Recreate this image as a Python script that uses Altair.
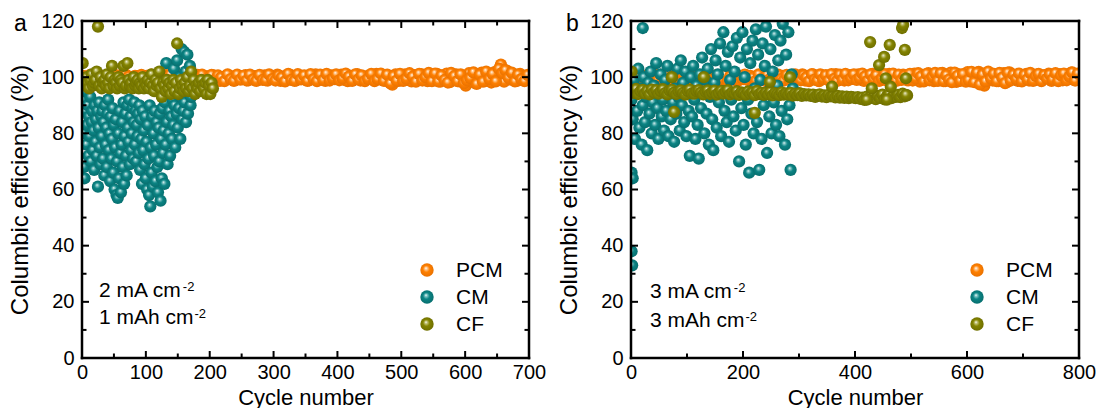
import altair as alt
import pandas as pd

FONT = "Liberation Sans"

# ---------------- data: panel a (2 mA cm-2) ----------------
pcm_a_cycles = list(range(1, 701, 5))
pcm_a = [
    99.5, 100.2, 99.0, 99.8, 100.5, 99.3, 98.8, 100.0, 99.6, 100.3,
    99.1, 99.9, 100.6, 99.4, 98.9, 100.1, 99.7, 100.4, 99.2, 99.8,
    100.5, 99.0, 99.6, 100.2, 98.7, 99.9, 100.7, 99.3, 99.8, 100.1,
    98.9, 99.6, 100.4, 99.1, 100.0, 99.5, 100.8, 98.8, 99.7, 100.3,
    99.2, 100.6, 99.4, 98.7, 100.1, 99.8, 100.5, 99.0, 99.6, 100.2,
    99.3, 100.7, 98.9, 99.9, 100.4, 99.1, 99.7, 100.6, 98.8, 100.0,
    99.5, 100.9, 98.7, 100.3, 99.2, 100.8, 99.4, 98.9, 100.5, 99.7,
    100.2, 98.9, 99.6, 101.0, 99.1, 100.4, 98.7, 99.9, 100.6, 99.3,
    99.8, 100.9, 99.0, 98.6, 100.3, 99.5, 101.1, 98.8, 99.7, 100.4,
    99.6, 99.9, 101.2, 99.2, 100.6, 98.9, 99.6, 97.3, 101.0, 98.7,
    100.1, 101.0, 99.0, 98.5, 100.7, 99.4, 101.1, 99.8, 98.6, 100.3,
    99.6, 101.2, 98.4, 100.0, 101.3, 98.2, 99.1, 101.0, 98.5, 100.5,
    97.0, 101.4, 98.3, 100.4, 99.0, 101.6, 98.6, 101.0, 98.1, 101.8,
    102.0, 104.5, 98.4, 102.2, 99.2, 100.8, 98.7, 101.2, 99.6, 100.0,
]
pcm_a2_cycles = list(range(3, 701, 5))
pcm_a2 = [
    100.4, 98.9, 100.8, 99.2, 98.7, 100.6, 99.9, 98.6, 100.9, 99.0,
    100.7, 98.8, 99.5, 101.0, 100.2, 98.7, 100.5, 99.1, 100.8, 98.9,
    99.3, 100.9, 98.8, 99.6, 100.8, 98.6, 99.4, 100.9, 98.7, 99.5,
    100.6, 98.7, 99.4, 101.0, 98.6, 100.7, 99.2, 100.9, 98.8, 99.6,
    100.8, 98.9, 100.6, 99.9, 98.6, 101.0, 99.3, 98.7, 100.9, 99.1,
    100.5, 98.8, 100.9, 99.2, 98.7, 100.8, 99.0, 98.9, 101.0, 99.3,
    98.8, 100.6, 99.9, 98.5, 101.2, 99.0, 98.7, 101.1, 99.2, 100.6,
    98.7, 101.1, 99.3, 98.6, 100.9, 99.0, 101.2, 98.8, 99.5, 101.0,
    98.9, 99.6, 101.3, 100.2, 98.7, 101.0, 99.2, 100.6, 98.6, 99.4,
    101.2, 98.6, 99.3, 101.3, 98.7, 100.9, 97.8, 100.4, 98.8, 101.2,
    98.7, 99.5, 101.4, 100.2, 98.4, 101.2, 98.8, 100.0, 101.5, 98.6,
    101.3, 98.5, 100.6, 99.0, 98.1, 101.5, 100.4, 98.6, 101.0, 97.9,
    98.9, 99.7, 101.7, 97.6, 100.9, 98.4, 102.0, 99.4, 101.2, 98.5,
    103.0, 101.5, 102.5, 99.8, 101.6, 98.5, 100.9, 99.3, 98.6, 100.8,
]
cm_a_cycles = list(range(1, 173))
cm_a = [
    92, 80, 68, 64, 88, 95, 76, 83, 90, 72,
    86, 79, 93, 70, 84, 88, 74, 81, 67, 90,
    77, 85, 72, 88, 61, 82, 91, 75, 69, 86,
    79, 88, 71, 84, 65, 90, 76, 82, 68, 87,
    92, 74, 80, 63, 86, 71, 78, 89, 66, 83,
    60, 75, 85, 58, 70, 57, 80, 64, 88, 73,
    59, 76, 84, 68, 91, 62, 79, 87, 72, 65,
    90, 82, 77, 92, 69, 86, 74, 80, 89, 71,
    84, 91, 76, 88, 70, 83, 79, 87, 73, 90,
    67, 85, 78, 62, 88, 74, 81, 69, 86, 64,
    77, 60, 83, 71, 58, 90, 54, 75, 66, 86,
    61, 80, 72, 88, 63, 76, 84, 68, 59, 82,
    70, 87, 56, 78, 64, 89, 73, 81, 62, 91,
    76, 105, 84, 69, 94, 80, 88, 72, 98, 86,
    78, 92, 83, 103, 90, 75, 96, 87, 106, 82,
    95, 89, 100, 78, 93, 110, 85, 97, 88, 109,
    91, 102, 84, 96, 108, 87, 99, 94, 104, 90,
    93, 97,
]
cf_a_cycles = list(range(1, 206, 2))
cf_a = [
    105, 99, 97, 100, 98, 96, 99, 101, 97, 98,
    99, 102, 118, 97, 100, 96, 98, 99, 97, 101,
    98, 96, 100, 104, 97, 99, 98, 96, 100, 97,
    99, 98, 104, 96, 97, 105, 99, 97, 98, 96,
    100, 97, 98, 99, 96, 98, 97, 100, 96, 98,
    97, 99, 96, 98, 101, 97, 95, 99, 97, 98,
    102, 96, 93, 98, 97, 95, 99, 96, 98, 94,
    97, 99, 95, 98, 112, 94, 96, 99, 97, 95,
    98, 96, 100, 95, 97, 102, 96, 99, 94, 97,
    96, 98, 95, 99, 97, 96, 98, 94, 99, 97,
    94, 98, 96,
]

# ---------------- data: panel b (3 mA cm-2) ----------------
pcm_b_cycles = list(range(1, 801, 5))
pcm_b = [
    99.6, 100.3, 99.1, 99.9, 100.5, 99.4, 98.9, 100.1, 99.7, 100.4,
    99.2, 100.0, 100.6, 99.5, 99.0, 100.2, 99.8, 100.5, 99.3, 99.9,
    100.4, 99.1, 99.7, 100.3, 98.8, 100.0, 100.7, 99.4, 99.9, 100.2,
    99.0, 99.7, 100.5, 99.2, 100.1, 99.6, 100.8, 98.9, 99.8, 100.4,
    99.3, 100.6, 99.5, 98.8, 100.2, 99.9, 100.5, 99.1, 99.7, 100.3,
    99.4, 100.8, 99.0, 100.0, 100.5, 99.2, 99.8, 100.7, 98.9, 100.1,
    99.6, 101.0, 98.8, 100.4, 99.3, 100.9, 99.5, 98.6, 100.6, 99.8,
    100.3, 99.0, 99.7, 101.1, 99.2, 100.5, 98.8, 100.0, 100.7, 99.4,
    99.9, 101.0, 99.1, 98.7, 100.4, 99.6, 101.2, 98.9, 99.8, 100.5,
    99.3, 100.0, 101.2, 99.2, 100.6, 98.8, 99.7, 100.9, 99.4, 98.9,
    100.2, 101.3, 99.1, 98.4, 100.8, 99.5, 101.4, 99.9, 98.6, 100.4,
    99.7, 101.5, 98.6, 100.1, 101.6, 99.2, 98.3, 101.0, 99.6, 100.6,
    101.8, 98.5, 101.3, 100.2, 101.9, 98.1, 97.0, 99.4, 101.0, 98.8,
    100.5, 98.6, 99.9, 101.4, 98.2, 101.7, 99.3, 100.8, 98.7, 100.2,
    99.5, 101.2, 98.8, 100.6, 99.1, 101.0, 98.9, 100.4, 99.6, 101.3,
    98.7, 100.3, 99.2, 101.1, 98.9, 100.5, 99.4, 101.6, 99.0, 100.8,
]
pcm_b2_cycles = list(range(3, 801, 5))
pcm_b2 = [
    100.5, 98.9, 100.7, 99.2, 98.8, 100.6, 99.8, 98.7, 100.9, 99.1,
    100.8, 98.8, 99.6, 101.0, 100.2, 98.7, 100.4, 99.2, 100.8, 98.9,
    99.4, 100.9, 98.8, 99.7, 100.8, 98.6, 99.5, 100.9, 98.8, 99.6,
    100.7, 98.8, 99.4, 101.0, 98.7, 100.6, 99.3, 100.9, 98.9, 99.7,
    100.9, 99.0, 100.5, 99.9, 98.7, 101.0, 99.4, 98.8, 100.8, 99.2,
    100.6, 98.9, 100.9, 99.3, 98.8, 100.8, 99.1, 99.0, 101.0, 99.4,
    98.9, 100.7, 99.9, 98.6, 101.1, 99.1, 98.8, 101.0, 99.3, 100.7,
    98.8, 101.1, 99.4, 98.7, 100.9, 99.1, 101.2, 98.9, 99.6, 101.0,
    99.0, 99.7, 101.3, 100.3, 98.8, 101.0, 99.3, 100.7, 98.7, 99.5,
    101.1, 98.7, 99.4, 101.3, 98.8, 100.9, 99.0, 100.5, 98.9, 101.2,
    98.8, 99.6, 101.4, 100.3, 98.5, 101.2, 98.9, 100.1, 101.5, 98.7,
    101.4, 98.6, 100.7, 99.1, 98.2, 101.6, 100.5, 98.7, 101.1, 98.4,
    99.0, 101.9, 98.2, 101.6, 97.4, 100.9, 98.5, 102.0, 99.5, 101.2,
    98.6, 101.5, 99.8, 97.9, 101.6, 98.8, 100.9, 99.4, 101.3, 98.5,
    100.8, 99.2, 101.5, 98.7, 100.4, 101.2, 98.6, 100.7, 99.5, 101.0,
    99.2, 101.4, 98.6, 100.6, 101.3, 98.9, 100.2, 101.7, 98.8, 101.3,
]
cm_b_cycles = list(range(1, 290, 2))
cm_b = [
    92, 85, 99, 78, 95, 88, 103, 82, 96, 76,
    90, 100, 84, 93, 74, 98, 87, 102, 80, 91,
    97, 83, 105, 89, 78, 94, 101, 86, 92, 81,
    99, 88, 104, 79, 95, 85, 100, 91, 77, 96,
    87, 103, 93, 81, 106, 90, 98, 84, 102, 79,
    95, 88, 72, 100, 86, 104, 92, 78, 97, 83,
    71, 101, 89, 107, 94, 80, 99, 87, 103, 76,
    93, 110, 85, 74, 98, 106, 82, 101, 91, 112,
    79, 95, 116, 88, 104, 84, 109, 77, 99, 92,
    111, 86, 102, 81, 114, 94, 70, 107, 89, 116,
    83, 100, 76, 110, 92, 66, 105, 87, 113, 80,
    96, 117, 84, 108, 67, 99, 78, 112, 90, 104,
    118, 73, 95, 86, 110, 80, 102, 91, 115, 83,
    97, 106, 79, 113, 88, 119, 94, 76, 108, 85,
    116, 90, 67, 101, 96,
]
cm_b_extra_cycles = [1, 2, 1, 3, 21]
cm_b_extra = [38, 33, 66, 64, 117.5]
cf_b_cycles = list(range(1, 494, 4))
cf_b = [
    95.3, 94.4, 95.8, 94.0, 95.0, 95.5, 94.2, 95.1, 93.9, 95.6,
    94.6, 95.4, 94.1, 95.0, 95.7, 94.3, 93.9, 95.2, 95.5, 94.5,
    94.0, 94.9, 95.3, 94.4, 93.8, 95.1, 95.6, 94.2, 94.1, 95.0,
    95.4, 94.5, 93.9, 94.8, 95.3, 94.0, 94.6, 95.2, 93.8, 94.4,
    95.1, 94.1, 94.8, 95.4, 93.9, 94.5, 94.2, 95.0, 93.7, 94.6,
    94.3, 93.8, 94.9, 94.1, 94.6, 93.6, 95.1, 94.0, 94.4, 93.7,
    94.5, 93.9, 94.8, 93.5, 94.3, 94.0, 93.6, 94.6, 93.8, 94.2,
    93.8, 94.4, 93.4, 94.1, 93.6, 94.3, 93.3, 94.0, 93.5, 93.9,
    93.3, 93.8, 93.0, 93.6, 93.9, 93.1, 93.5, 92.9, 93.7, 93.2,
    93.4, 92.8, 93.3, 92.7, 93.2, 92.6, 93.1, 92.5, 93.0, 92.8,
    92.5, 92.9, 92.3, 92.7, 91.9, 93.1, 92.4, 93.5, 92.8, 92.2,
    93.3, 92.6, 93.8, 92.1, 93.2, 93.9, 92.5, 93.4, 93.0, 93.7,
    92.9, 94.1, 93.2, 93.5,
]
cf_b_extra_cycles = [1, 73, 77, 130, 221, 248, 284, 359, 421, 427, 430, 443,
                     452, 455, 457, 462, 464, 484, 486, 489, 491, 491]
cf_b_extra = [102, 100, 87.6, 100, 87.3, 98.3, 100, 96.6, 92, 112.5, 96, 104.3,
              107.2, 99.6, 92, 111.5, 96.5, 117.5, 118.6, 109.7, 99.6, 93.7]

# ---------------- labels / ticks ----------------
series_names = ["PCM", "CM", "CF"]
base_colors = {"PCM": "#FF8000", "CM": "#0B8484", "CF": "#848400"}
light_colors = {"PCM": "#FFC890", "CM": "#7FC4C4", "CF": "#C4C47A"}
dark_colors = {"PCM": "#E46E00", "CM": "#066A6A", "CF": "#6A6A00"}
y_major = [0, 20, 40, 60, 80, 100, 120]
y_minor = [10, 30, 50, 70, 90, 110]
xa_major = [0, 100, 200, 300, 400, 500, 600, 700]
xa_minor = [50, 150, 250, 350, 450, 550, 650]
xb_major = [0, 200, 400, 600, 800]
xb_minor = [100, 300, 500, 700]
ann_a = ["2 mA cm", "1 mAh cm"]
ann_b = ["3 mA cm", "3 mAh cm"]
sup_text = "-2"
x_title = "Cycle number"
y_title = "Columbic efficiency (%)"

H = 337
ANN_FS = 21


def grad(name):
    return {
        "gradient": "radial",
        "x1": 0.42, "y1": 0.36, "r1": 0.0,
        "x2": 0.5, "y2": 0.5, "r2": 0.58,
        "stops": [
            {"offset": 0.0, "color": "#FFFFFF"},
            {"offset": 0.16, "color": light_colors[name]},
            {"offset": 0.42, "color": base_colors[name]},
            {"offset": 1.0, "color": dark_colors[name]},
        ],
    }


def panel(W, xmax, x_major, x_minor, series, letter, letter_x, ann, ann_x, ann_y):
    xs = alt.Scale(domain=[0, xmax], nice=False, zero=False)
    ys = alt.Scale(domain=[0, 120], nice=False)
    xaxis = alt.Axis(values=x_major, ticks=False, domain=False, grid=False,
                     labelPadding=4, titlePadding=5, format="d", labelFlush=False,
                     labelOverlap=False, titleFontSize=22)
    yaxis = alt.Axis(values=y_major, ticks=False, domain=False, grid=False,
                     labelPadding=8, titlePadding=8, format="d", labelFlush=False,
                     labelOverlap=False, titleFontSize=24)
    layers = []
    for name, cyc, val in series:
        df = pd.DataFrame({"cycle": cyc, "ce": val})
        layers.append(
            alt.Chart(df).mark_point(filled=True, size=150, opacity=1, clip=True,
                                     strokeWidth=0, color=grad(name)).encode(
                x=alt.X("cycle:Q", scale=xs, axis=xaxis, title=x_title),
                y=alt.Y("ce:Q", scale=ys, axis=yaxis, title=y_title),
            )
        )
    # inward ticks on all four sides
    for vals, ln in ((x_major, 7), (x_minor, 4.5)):
        d = pd.DataFrame({"t": vals})
        xe = alt.X("t:Q", scale=xs, axis=xaxis, title=x_title)
        layers.append(alt.Chart(d).mark_rule(color="black", strokeWidth=2).encode(
            x=xe, y=alt.value(H), y2=alt.value(H - ln)))
        layers.append(alt.Chart(d).mark_rule(color="black", strokeWidth=2).encode(
            x=xe, y=alt.value(0), y2=alt.value(ln)))
    for vals, ln in ((y_major, 7), (y_minor, 4.5)):
        d = pd.DataFrame({"t": vals})
        ye = alt.Y("t:Q", scale=ys, axis=yaxis, title=y_title)
        layers.append(alt.Chart(d).mark_rule(color="black", strokeWidth=2).encode(
            y=ye, x=alt.value(0), x2=alt.value(ln)))
        layers.append(alt.Chart(d).mark_rule(color="black", strokeWidth=2).encode(
            y=ye, x=alt.value(W), x2=alt.value(W - ln)))
    # plot frame
    one = pd.DataFrame({"k": [0]})
    for enc in (dict(x=alt.value(0), x2=alt.value(W), y=alt.value(0)),
                dict(x=alt.value(0), x2=alt.value(W), y=alt.value(H)),
                dict(y=alt.value(0), y2=alt.value(H), x=alt.value(0)),
                dict(y=alt.value(0), y2=alt.value(H), x=alt.value(W))):
        layers.append(alt.Chart(one).mark_rule(color="black", strokeWidth=2.5,
                                               strokeCap="square").encode(**enc))
    # annotations (with superscript -2)
    em_widths = [3.945, 4.501]  # Arial advance widths of the two strings, in em
    for i, txt in enumerate(ann):
        yb = ann_y[i]
        layers.append(alt.Chart(one).mark_text(
            align="left", baseline="alphabetic", fontSize=ANN_FS, font=FONT, color="black",
            text=txt).encode(x=alt.value(ann_x), y=alt.value(yb)))
        w = em_widths[i] * ANN_FS
        layers.append(alt.Chart(one).mark_text(
            align="left", baseline="alphabetic", fontSize=13, font=FONT, color="black",
            text=sup_text).encode(x=alt.value(ann_x + w + 1), y=alt.value(yb - 6)))
    # panel letter
    layers.append(alt.Chart(one).mark_text(
        align="left", baseline="alphabetic", fontSize=23, font=FONT, color="black",
        text=letter).encode(x=alt.value(letter_x), y=alt.value(10)))
    # legend
    for i, name in enumerate(series_names):
        yy = 249 + 27 * i
        layers.append(alt.Chart(one).mark_point(
            filled=True, size=180, opacity=1, strokeWidth=0, color=grad(name)).encode(
            x=alt.value(W - 102), y=alt.value(yy)))
        layers.append(alt.Chart(one).mark_text(
            align="left", baseline="middle", fontSize=21, font=FONT, color="black",
            text=name).encode(x=alt.value(W - 73), y=alt.value(yy + 1)))
    return alt.layer(*layers).properties(width=W, height=H)


pa = panel(447, 700, xa_major, xa_minor,
           [("PCM", pcm_a_cycles, pcm_a), ("PCM", pcm_a2_cycles, pcm_a2),
            ("CM", cm_a_cycles, cm_a), ("CF", cf_a_cycles, cf_a)],
           "a", -68, ann_a, 17, [276, 302.5])
pb = panel(448, 800, xb_major, xb_minor,
           [("PCM", pcm_b_cycles, pcm_b), ("PCM", pcm_b2_cycles, pcm_b2),
            ("CM", cm_b_cycles, cm_b), ("CM", cm_b_extra_cycles, cm_b_extra),
            ("CF", cf_b_cycles, cf_b), ("CF", cf_b_extra_cycles, cf_b_extra)],
           "b", -65, ann_b, 19, [277, 306])

chart = alt.hconcat(pa, pb, spacing=11).properties(
    padding={"left": 8, "top": 11, "right": 0, "bottom": 0},
    background="white",
).configure_view(strokeWidth=0).configure_axis(
    labelFont=FONT, labelFontSize=20, labelColor="black",
    titleFont=FONT, titleFontWeight="normal", titleColor="black",
)

chart.save("out.html", embed_options={"renderer": "svg", "actions": False})
